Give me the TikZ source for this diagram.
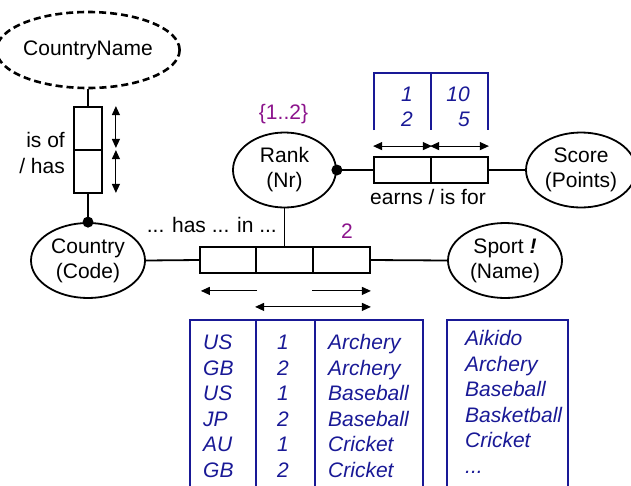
\documentclass[tikz,border=0pt]{standalone}
\usepackage{fontspec}
\setmainfont{Liberation Sans}
\usetikzlibrary{shapes.geometric,arrows.meta}
\definecolor{tblue}{RGB}{25,25,150}
\definecolor{tpurple}{RGB}{140,20,140}
\begin{document}
\begin{tikzpicture}[x=1pt,y=-1pt,
  font=\fontsize{21}{25}\selectfont,
  ent/.style={ellipse,draw,line width=1.8pt,inner sep=0pt,align=center,
    minimum width=#1,minimum height=75pt},
  ent/.default=114pt,
  cell/.style={draw,line width=1.8pt,inner sep=0pt},
  link/.style={line width=1.8pt},
  span/.style={line width=1.1pt,{Triangle[length=9pt,width=8pt]}-{Triangle[length=9pt,width=8pt]}},
  ray/.style={line width=1.1pt,-{Triangle[length=9pt,width=8pt]}},
  tline/.style={draw=tblue,line width=2.2pt},
  pop/.style={text=tblue,font=\fontsize{21}{25}\selectfont\itshape,inner sep=0pt},
  note/.style={inner sep=0pt},
  card/.style={text=tpurple,inner sep=0pt}]
\useasboundingbox (0,0) rectangle (631,485);

% entity types
\node[ent=153pt,dashed,line width=2.6pt,dash pattern=on 7pt off 4pt,minimum height=76pt] (cn) at (88,50) {CountryName};
\node[ent] (country) at (88,260.5) {Country\\(Code)};
\node[ent] (sport) at (505,260.5) {Sport \textbf{\textit{!}}\\(Name)};
\node[ent=103pt] (rank) at (284.5,170) {Rank\\(Nr)};
\node[ent=110pt] (score) at (581,170) {Score\\(Points)};

% fact type boxes
\node[cell,minimum width=28pt,minimum height=43pt] (v1) at (88,128.5) {};
\node[cell,minimum width=28pt,minimum height=43pt] (v2) at (88,171.5) {};
\node[cell,minimum width=57pt,minimum height=26pt] (e1) at (402.5,170) {};
\node[cell,minimum width=57pt,minimum height=26pt] (e2) at (459.5,170) {};
\node[cell,minimum width=56.5pt,minimum height=26pt] (h1) at (228,260) {};
\node[cell,minimum width=57pt,minimum height=26pt] (h2) at (284.5,260) {};
\node[cell,minimum width=57pt,minimum height=26pt] (h3) at (341.5,260) {};

% connectors
\draw[link] (cn.south) -- (v1.north);
\draw[link] (v2.south) -- (country.north);
\fill (country.north) circle (5.5);
\draw[link] (country.east) -- (h1.west);
\draw[link] (h3.east) -- (sport.west);
\draw[link] (rank.south) -- (h2.north);
\draw[link] (rank.east) -- (e1.west);
\fill (rank.east) circle (5.5);
\draw[link] (e2.east) -- (score.west);

% uniqueness constraints
\draw[span] ([xshift=13pt]v1.north east) -- ([xshift=13pt,yshift=3pt]v1.south east);
\draw[span] ([xshift=13pt,yshift=-1pt]v2.north east) -- ([xshift=13pt,yshift=1pt]v2.south east);
\draw[span] ([yshift=10pt]e1.north west) -- ([yshift=10pt]e1.north east);
\draw[span] ([yshift=10pt]e2.north west) -- ([yshift=10pt]e2.north east);
\draw[ray] ([yshift=-17pt]h1.south east) -- ([xshift=2pt,yshift=-17pt]h1.south west);
\draw[ray] ([yshift=-17pt]h3.south west) -- ([yshift=-17pt]h3.south east);
\draw[span] ([yshift=-33pt]h2.south west) -- ([yshift=-33pt]h3.south east);

% labels
\node[note,anchor=base east] (isof) at (65,147) {is of};
\node[note,anchor=base east] (has) at (65,173) {/ has};
\node[note,anchor=base] (earns) at (428,204) {earns / is for};
\node[note,anchor=base east] (hasin) at (277,232) {{...} has {...} in {...}};
\node[card,anchor=base] (rankval) at (283.5,119) {\{1..2\}};
\node[card,anchor=base] (freq) at (347,238.5) {2};

% sample population of earns / is for
\draw[tline] (374,130) -- (374,73) -- (488,73) -- (488,130) (431,73) -- (431,130);
\node[pop,anchor=base east] (p1) at (413,101.5) {1};
\node[pop,anchor=base east] (p2) at (413,126.5) {2};
\node[pop,anchor=base east] (q1) at (470,101.5) {10};
\node[pop,anchor=base east] (q2) at (470,126.5) {5};

% sample population of ... has ... in ...
\draw[tline] (190,490) -- (190,320) -- (423,320) -- (423,490)
  (256,320) -- (256,490) (315,320) -- (315,490);
\foreach \c/\n/\s [count=\i from 0] in
  {US/1/Archery,GB/2/Archery,US/1/Baseball,JP/2/Baseball,AU/1/Cricket,GB/2/Cricket}
{
  \node[pop,anchor=base west] (c\i) at (203,349.5+25.6*\i) {\c};
  \node[pop,anchor=base] (n\i) at (283,349.5+25.6*\i) {\n};
  \node[pop,anchor=base west] (s\i) at (328,349.5+25.6*\i) {\s};
}

% sample population of Sport
\draw[tline] (447,490) -- (447,320) -- (568,320) -- (568,490);
\foreach \s [count=\i from 0] in {Aikido,Archery,Baseball,Basketball,Cricket}
{
  \node[pop,anchor=base west] (t\i) at (465,345.5+25.6*\i) {\s};
}
\node[pop,anchor=base west] (t5) at (465,345.5+25.6*5) {...};
\end{tikzpicture}
\end{document}
